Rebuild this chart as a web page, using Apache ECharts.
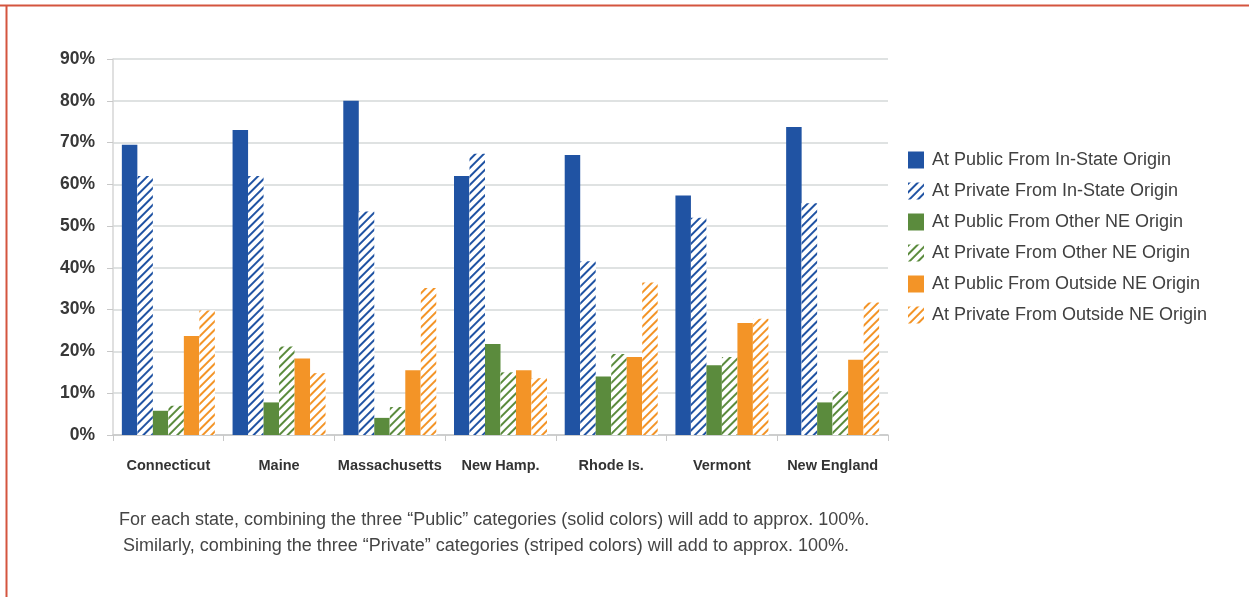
<!DOCTYPE html>
<html><head><meta charset="utf-8">
<script src="https://cdn.jsdelivr.net/npm/echarts@6/dist/echarts.min.js"></script>
<style>html,body{margin:0;padding:0;background:#fff}#c{width:1249px;height:597px}</style>
</head><body><div id="c"></div>
<script>
const categories = ['Connecticut','Maine','Massachusetts','New Hamp.','Rhode Is.','Vermont','New England'];
const seriesNames = ['At Public From In-State Origin','At Private From In-State Origin','At Public From Other NE Origin','At Private From Other NE Origin','At Public From Outside NE Origin','At Private From Outside NE Origin'];
const publicInState   = [69.5, 73, 80, 62, 67, 57.3, 73.7];
const privateInState  = [62, 62, 53.5, 67.3, 41.6, 52, 55.5];
const publicOtherNE   = [5.8, 7.8, 4.1, 21.8, 14, 16.7, 7.8];
const privateOtherNE  = [7, 21.2, 6.7, 15, 19.4, 18.7, 10.5];
const publicOutside   = [23.7, 18.3, 15.5, 15.5, 18.7, 26.8, 18];
const privateOutside  = [29.8, 14.8, 35.2, 13.6, 36.5, 27.8, 31.7];
const yTicks = [0,10,20,30,40,50,60,70,80,90];
const footnote = ['For each state, combining the three \u201cPublic\u201d categories (solid colors) will add to approx. 100%.',
                  'Similarly, combining the three \u201cPrivate\u201d categories (striped colors) will add to approx. 100%.'];

const BLUE='#2053a3', GREEN='#5b8b3d', ORANGE='#f39427';
const values=[publicInState,privateInState,publicOtherNE,privateOtherNE,publicOutside,privateOutside];
const colors=[BLUE,BLUE,GREEN,GREEN,ORANGE,ORANGE];
const series = values.map((v,i)=>{
  const hatched = i%2===1;
  return {name:seriesNames[i], type:'bar', data:v, barGap:'0%', barCategoryGap:'16%',
    itemStyle: hatched ? {color:'#ffffff', decal:{symbol:'rect', color:colors[i], backgroundColor:'#ffffff', dashArrayX:[1,0], dashArrayY:[2,4], rotation:-Math.PI/4, symbolSize:1}} : {color:colors[i]},
    emphasis:{disabled:true}};
});
const chart = echarts.init(document.getElementById('c'), null, {renderer:'canvas'});
chart.setOption({
  animation:false,
  backgroundColor:'#fff',
  grid:{left:113, right:361, top:59, bottom:162},
  xAxis:{type:'category', data:categories,
    axisLine:{show:true, lineStyle:{color:'#c8c8c8', width:1.5}},
    axisTick:{show:true, length:6, lineStyle:{color:'#c8c8c8'}},
    axisLabel:{interval:0, color:'#333', fontFamily:'Liberation Sans', fontWeight:'bold', fontSize:14.5, margin:23}},
  yAxis:{type:'value', min:0, max:90, interval:10,
    axisLine:{show:true, lineStyle:{color:'#d6d6d6', width:1.5}},
    axisTick:{show:true, length:6, lineStyle:{color:'#c8c8c8'}},
    splitLine:{lineStyle:{color:'#dfe2e2', width:2}},
    axisLabel:{formatter:v=>v+'%', color:'#383838', fontFamily:'Liberation Sans', fontWeight:'bold', fontSize:17.5, margin:18}},
  legend:{orient:'vertical', left:903, top:146, itemWidth:16, itemHeight:17, itemGap:13, icon:'rect',
    textStyle:{color:'#404040', fontFamily:'Liberation Sans', fontSize:18, lineHeight:18, padding:[0,0,0,3]}, data:seriesNames},
  graphic:[
    {type:'line', shape:{x1:0, y1:5.5, x2:1249, y2:5.5}, style:{stroke:'#d4553f', lineWidth:2}},
    {type:'line', shape:{x1:6.5, y1:5, x2:6.5, y2:597}, style:{stroke:'#d4553f', lineWidth:2}},
    {type:'text', left:119, top:511, style:{text:footnote[0], fill:'#454545', font:'18px "Liberation Sans"'}},
    {type:'text', left:123, top:537, style:{text:footnote[1], fill:'#454545', font:'18px "Liberation Sans"'}}
  ],
  series:series
});
</script></body></html>
